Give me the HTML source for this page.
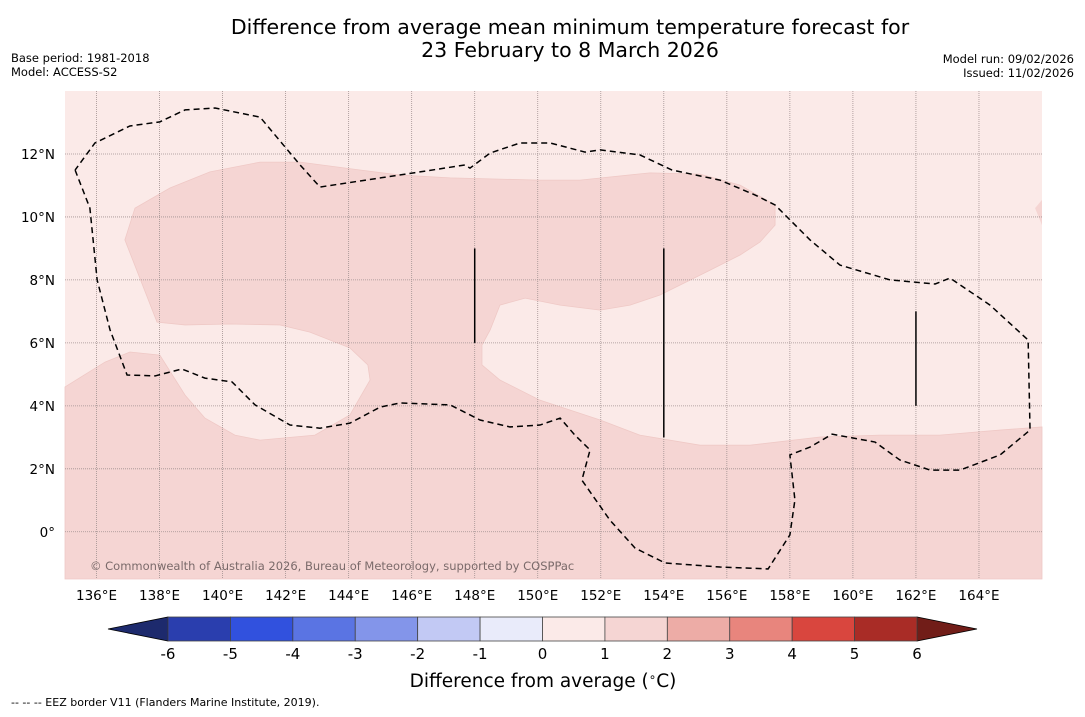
<!DOCTYPE html>
<html><head><meta charset="utf-8">
<style>
body{margin:0;background:#fff;font-family:"DejaVu Sans","Liberation Sans",sans-serif;}
svg text{font-family:"DejaVu Sans","Liberation Sans",sans-serif;}
</style></head>
<body>
<svg id="chart" width="1085" height="713" xmlns="http://www.w3.org/2000/svg">
<text x="570" y="34" font-size="20.5" text-anchor="middle">Difference from average mean minimum temperature forecast for</text>
<text x="570" y="57" font-size="20.5" text-anchor="middle">23 February to 8 March 2026</text>
<text x="11" y="62" font-size="11.5">Base period: 1981-2018</text>
<text x="11" y="76" font-size="11.5">Model: ACCESS-S2</text>
<text x="1074" y="63" font-size="11.5" text-anchor="end">Model run: 09/02/2026</text>
<text x="1074" y="77" font-size="11.5" text-anchor="end">Issued: 11/02/2026</text>
<g id="map"></g>
<g id="cbar"></g>
<text x="543" y="687" font-size="18.5" text-anchor="middle">Difference from average (<tspan font-size="12" dy="-6">∘</tspan><tspan dy="6">C)</tspan></text>
<text x="11" y="706" font-size="11">--  --  -- EEZ border V11 (Flanders Marine Institute, 2019).</text>
</svg>
<script>
// Map extent (data)
const lonMin=135, lonMax=166, latMin=-1.5, latMax=14;
const lonTicks=[136,138,140,142,144,146,148,150,152,154,156,158,160,162,164];
const latTicks=[0,2,4,6,8,10,12];
// Anomaly region (1-2 °C class) outline, lon/lat
const regionLon=[135,135,136.27,137.06,138.01,138.81,139.44,140.39,141.19,142.93,144.04,144.68,144.61,144.04,142.77,141.82,140.24,138.81,137.92,136.90,137.22,138.33,139.60,141.19,142.46,144.36,145.63,147.22,150.07,151.34,153.56,155.15,156.42,157.53,157.53,157.05,156.42,155.47,153.88,152.93,151.98,150.71,149.60,148.80,148.49,148.23,148.23,148.80,150.07,151.98,153.24,155.15,156.74,158.96,160.86,162.76,164.67,166,166];
const regionLat=[-1.5,4.60,5.39,5.71,5.61,4.34,3.61,3.07,2.91,3.07,3.71,4.82,5.30,5.84,6.34,6.57,6.60,6.57,6.66,9.27,10.28,10.92,11.43,11.74,11.74,11.49,11.33,11.24,11.17,11.17,11.40,11.36,11.01,10.38,9.74,9.20,8.79,8.31,7.52,7.20,7.04,7.20,7.42,7.20,6.41,5.93,5.30,4.82,4.18,3.55,3.07,2.75,2.75,3.01,3.07,3.07,3.23,3.33,-1.5];
// Small patch at right edge
const patchLon=[166,165.78,166], patchLat=[10.54,10.28,9.74];
// EEZ border (dashed), lon/lat
const eezLon=[135.32,135.79,136.02,136.43,136.97,137.86,138.71,139.44,140.30,141.03,142.14,143.09,144.04,145.00,145.63,147.22,148.17,149.12,150.07,150.71,151.18,151.66,151.40,152.29,153.09,154.04,155.78,157.31,158.00,158.16,158.00,158.64,159.34,160.70,161.49,162.45,163.40,164.67,165.62,165.56,164.35,163.08,162.61,161.18,159.59,158.64,157.53,156.89,155.78,154.26,153.24,151.98,151.50,150.39,149.44,148.49,147.85,147.69,146.26,143.09,142.46,141.19,139.76,138.81,138.01,137.06,135.95,135.32];
const eezLat=[11.49,10.28,8.0,6.41,4.98,4.95,5.17,4.88,4.76,4.03,3.39,3.29,3.45,3.96,4.09,4.03,3.55,3.33,3.39,3.61,3.07,2.60,1.64,0.37,-0.52,-0.99,-1.12,-1.18,-0.10,1.01,2.44,2.69,3.10,2.85,2.28,1.96,1.96,2.44,3.23,6.09,7.20,8.06,7.87,8.0,8.47,9.27,10.38,10.70,11.17,11.49,11.97,12.13,12.06,12.35,12.35,12.03,11.55,11.65,11.43,10.95,11.65,13.17,13.46,13.40,13.02,12.89,12.35,11.49];
// Vertical solid segments: lon, lat start, lat end
const segLon=[148,154,162], segLat0=[6,3,4], segLat1=[9,9,7];
// Colorbar
const cbLevels=[-6,-5,-4,-3,-2,-1,0,1,2,3,4,5,6];
const cbColors=["#2a3eae","#3151de","#5a74e3","#8395ea","#c2c9f4","#e9ebfa","#fbeae8","#f5d5d3","#edaca6","#e8857d","#d9463e","#a92c26"];
const cbExtLow="#1d2a6d", cbExtHigh="#711d18";

const NS="http://www.w3.org/2000/svg";
const X0=65,X1=1042,Y0=91,Y1=579;
const px=l=>X0+(l-lonMin)/(lonMax-lonMin)*(X1-X0);
const py=l=>Y0+(latMax-l)/(latMax-latMin)*(Y1-Y0);
function mk(t,a,p){const e=document.createElementNS(NS,t);for(const k in a)e.setAttribute(k,a[k]);p.appendChild(e);return e;}
const map=document.getElementById('map');
const bg=mk('rect',{x:X0,y:Y0,width:X1-X0,height:Y1-Y0,fill:"#fbeae8"},map);


const reg=mk('polygon',{points:regionLon.map((l,i)=>px(l)+','+py(regionLat[i])).join(' '),fill:"#f5d5d3",stroke:"#efc9c6","stroke-width":0.8},map);


const patch=mk('polygon',{points:patchLon.map((l,i)=>px(l)+','+py(patchLat[i])).join(' '),fill:"#f5d5d3"},map);


lonTicks.forEach(l=>{
  const g=mk('line',{x1:px(l),x2:px(l),y1:Y0,y2:Y1,stroke:"#a09090","stroke-width":0.8,"stroke-dasharray":"1,1"},map);
  
  
  const t=mk('text',{x:px(l),y:600,"font-size":13.5,"text-anchor":"middle"},map);t.textContent=l+"°E";
  
  
});
latTicks.forEach(l=>{
  const g=mk('line',{x1:X0,x2:X1,y1:py(l),y2:py(l),stroke:"#a09090","stroke-width":0.8,"stroke-dasharray":"1,1"},map);
  
  
  const t=mk('text',{x:55,y:py(l)+5,"font-size":13.5,"text-anchor":"end"},map);t.textContent=l==0?"0°":l+"°N";
  
  
});
const eez=mk('polyline',{points:eezLon.map((l,i)=>px(l)+','+py(eezLat[i])).join(' '),fill:"none",stroke:"#000","stroke-width":1.5,"stroke-dasharray":"6,4"},map);


segLon.forEach((l,i)=>{
  const s=mk('line',{x1:px(l),x2:px(l),y1:py(segLat1[i]),y2:py(segLat0[i]),stroke:"#000","stroke-width":1.5},map);
  
  
});
const cr=mk('text',{x:90,y:570,"font-size":11.5,fill:"#7a6a6a"},map);cr.textContent="© Commonwealth of Australia 2026, Bureau of Meteorology, supported by COSPPac";



const cb=document.getElementById('cbar');
const CX0=168,CX1=917,CY0=617,CY1=641;
const cx=v=>CX0+(v-cbLevels[0])/(cbLevels[cbLevels.length-1]-cbLevels[0])*(CX1-CX0);
const lo=mk('polygon',{points:`${cx(-6)},${CY0} ${cx(-6)},${CY1} 108,629`,fill:cbExtLow,stroke:"#000","stroke-width":0.8},cb);


const hi=mk('polygon',{points:`${cx(6)},${CY0} ${cx(6)},${CY1} 977,629`,fill:cbExtHigh,stroke:"#000","stroke-width":0.8},cb);


cbColors.forEach((c,i)=>{
  const r=mk('rect',{x:cx(cbLevels[i]),y:CY0,width:cx(cbLevels[i+1])-cx(cbLevels[i]),height:CY1-CY0,fill:c,stroke:"#444","stroke-width":0.8},cb);
  
  
});
cbLevels.forEach(v=>{
  const t=mk('text',{x:cx(v),y:659,"font-size":15,"text-anchor":"middle"},cb);t.textContent=v;
  
  
});
</script>
</body></html>
